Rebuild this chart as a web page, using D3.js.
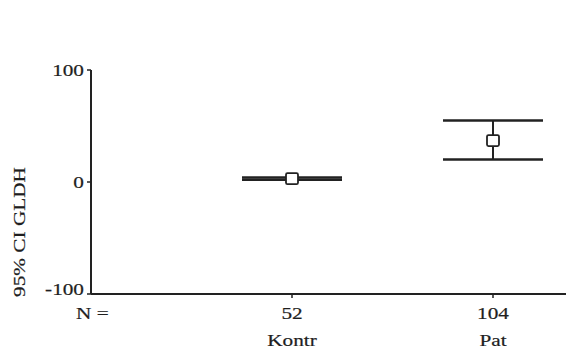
<!DOCTYPE html>
<html>
<head>
<meta charset="utf-8">
<script src="https://cdn.jsdelivr.net/npm/d3@7"></script>
<style>
  body { margin: 0; background: #fff; }
  text { font-family: "Liberation Serif", "DejaVu Serif", serif; fill: #1e1e1e; stroke: #1e1e1e; stroke-width: 0.2; }
</style>
</head>
<body>
<div id="chart"></div>
<script>
// data
const groups = ["Kontr", "Pat"];
const counts = [52, 104];
const means = [3, 37];
const lower = [2, 20];
const upper = [4, 55];
const yTicks = [-100, 0, 100];

const width = 566, height = 350;
const margin = { left: 91, top: 70, bottom: 56 };
const fontSize = 17;
const stretch = 1.25;   // the scanned font is much wider than Times

const svg = d3.select("#chart").append("svg")
    .attr("width", width)
    .attr("height", height);

const y = d3.scaleLinear()
    .domain([-100, 100])
    .range([height - margin.bottom, margin.top]);

// 4 slots: the axis runs past the right edge
const x = d3.scalePoint()
    .domain(["_start", ...groups, "_end"])
    .range([margin.left, margin.left + 3 * 201]);

const wideText = (sel, tx, ty) => sel
    .attr("transform", (d, i) => `translate(${tx(d, i)}, ${ty(d, i)}) scale(${stretch}, 1)`)
    .attr("font-size", fontSize);

// y axis
svg.append("line")
    .attr("x1", margin.left).attr("x2", margin.left)
    .attr("y1", y(100)).attr("y2", y(-100))
    .attr("stroke", "#222").attr("stroke-width", 2);

svg.selectAll("line.ytick")
    .data(yTicks)
    .enter().append("line")
    .attr("class", "ytick")
    .attr("x1", margin.left - 4).attr("x2", margin.left)
    .attr("y1", d => y(d)).attr("y2", d => y(d))
    .attr("stroke", "#222").attr("stroke-width", 1.5);

svg.selectAll("text.ylab")
    .data(yTicks)
    .enter().append("text")
    .attr("class", "ylab")
    .attr("text-anchor", "end")
    .call(wideText, () => margin.left - 7, d => y(d) + (d === -100 ? 1 : 6))
    .text(d => d);

svg.append("text")
    .attr("transform", `translate(25, 232) rotate(-90) scale(1.25, 1)`)
    .attr("text-anchor", "middle")
    .attr("font-size", fontSize)
    .text("95% CI GLDH");

// x axis
svg.append("line")
    .attr("x1", margin.left).attr("x2", width)
    .attr("y1", y(-100)).attr("y2", y(-100))
    .attr("stroke", "#222").attr("stroke-width", 2);

svg.selectAll("line.xtick")
    .data(groups)
    .enter().append("line")
    .attr("class", "xtick")
    .attr("x1", d => x(d)).attr("x2", d => x(d))
    .attr("y1", y(-100)).attr("y2", y(-100) + 4)
    .attr("stroke", "#222").attr("stroke-width", 1.5);

svg.append("text")
    .call(wideText, () => 76, () => 319)
    .text("N =");

svg.selectAll("text.count")
    .data(groups)
    .enter().append("text")
    .attr("class", "count")
    .attr("text-anchor", "middle")
    .call(wideText, d => x(d), () => 319)
    .text((d, i) => counts[i]);

svg.selectAll("text.group")
    .data(groups)
    .enter().append("text")
    .attr("class", "group")
    .attr("text-anchor", "middle")
    .call(wideText, d => x(d), () => 346)
    .text(d => d);

// error bars
const capHalf = 50;
const bars = svg.selectAll("g.bar")
    .data(groups)
    .enter().append("g")
    .attr("class", "bar");

bars.append("line")
    .attr("x1", d => x(d)).attr("x2", d => x(d))
    .attr("y1", (d, i) => y(upper[i])).attr("y2", (d, i) => y(lower[i]))
    .attr("stroke", "#222").attr("stroke-width", 2);

bars.append("line")
    .attr("x1", d => x(d) - capHalf).attr("x2", d => x(d) + capHalf)
    .attr("y1", (d, i) => y(upper[i])).attr("y2", (d, i) => y(upper[i]))
    .attr("stroke", "#222").attr("stroke-width", 2.5);

bars.append("line")
    .attr("x1", d => x(d) - capHalf).attr("x2", d => x(d) + capHalf)
    .attr("y1", (d, i) => y(lower[i])).attr("y2", (d, i) => y(lower[i]))
    .attr("stroke", "#222").attr("stroke-width", 2.5);

bars.append("rect")
    .attr("x", d => x(d) - 6)
    .attr("y", (d, i) => y(means[i]) - 5.5)
    .attr("width", 12).attr("height", 11)
    .attr("rx", 1.5)
    .attr("fill", "#fff")
    .attr("stroke", "#222").attr("stroke-width", 1.8);
</script>
</body>
</html>
